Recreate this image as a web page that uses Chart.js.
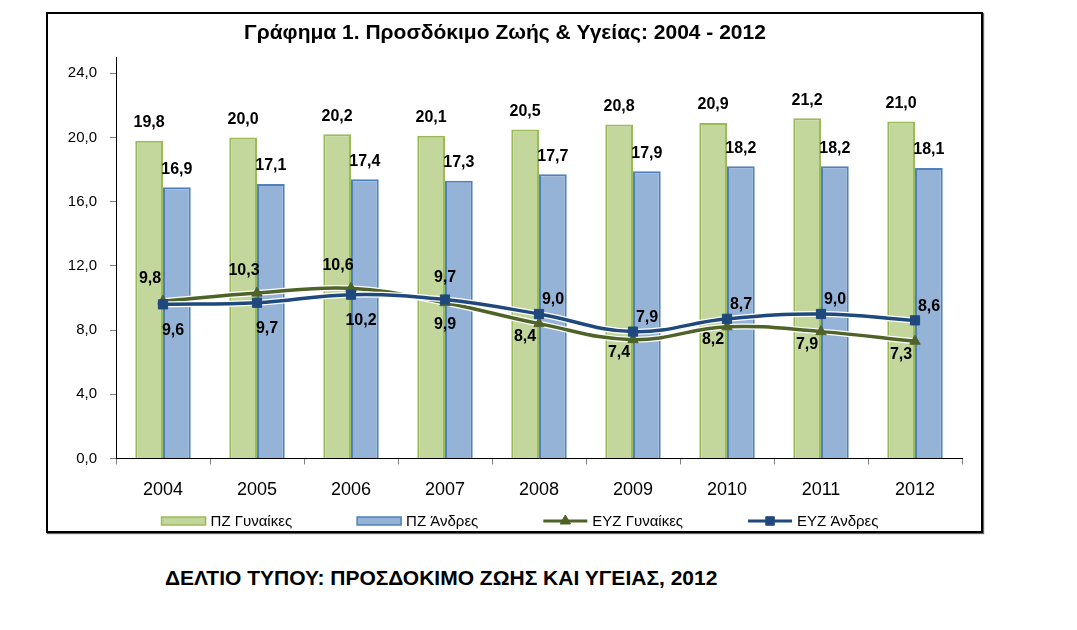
<!DOCTYPE html>
<html>
<head>
<meta charset="utf-8">
<script src="https://cdn.jsdelivr.net/npm/chart.js@4.4.1/dist/chart.umd.min.js"></script>
<style>
  html, body { margin: 0; padding: 0; background: #fff; }
  body { width: 1077px; height: 630px; position: relative; overflow: hidden; font-family: "Liberation Sans", Arial, sans-serif; }
  #box { position: absolute; left: 46px; top: 12px; width: 933px; height: 517px; border: 2px solid #000; box-shadow: 1px 1px 1px rgba(0,0,0,.6); background: #fff; }
  #box canvas { display: block; }
  #note { position: absolute; left: 165px; top: 566px; font-weight: bold; font-size: 21px; color: #000; white-space: nowrap; }
</style>
</head>
<body>
<div id="box"><canvas id="chart" width="933" height="517"></canvas></div>
<div id="note">ΔΕΛΤΙΟ ΤΥΠΟΥ: ΠΡΟΣΔΟΚΙΜΟ ΖΩΗΣ ΚΑΙ ΥΓΕΙΑΣ, 2012</div>
<script>
// data
const years = ['2004', '2005', '2006', '2007', '2008', '2009', '2010', '2011', '2012'];
const pzWomen = [19.8, 20.0, 20.2, 20.1, 20.5, 20.8, 20.9, 21.2, 21.0];
const pzMen = [16.9, 17.1, 17.4, 17.3, 17.7, 17.9, 18.2, 18.2, 18.1];
const eyzWomen = [9.8, 10.3, 10.6, 9.7, 8.4, 7.4, 8.2, 7.9, 7.3];
const eyzMen = [9.6, 9.7, 10.2, 9.9, 9.0, 7.9, 8.7, 9.0, 8.6];
const yTicks = { min: 0, max: 25, step: 4 };

// where each line label sits relative to its point
const eyzWomenLabelPos = ['aboveLeft', 'aboveLeft', 'aboveLeft', 'above', 'belowLeft', 'belowLeft', 'belowLeft', 'belowLeft', 'belowLeft'];
const eyzMenLabelPos = ['belowRight', 'belowRight', 'belowRight', 'below', 'aboveRight', 'aboveRight', 'aboveRight', 'aboveRight', 'aboveRight'];
const OFFSETS = {
    above: [0, -25], aboveLeft: [-13, -23], aboveRight: [14, -14],
    below: [0, 25], belowLeft: [-14, 13], belowRight: [10, 26],
    bar: [0, -18]
};

const FONT = '"Liberation Sans", Arial, sans-serif';
const fmt = v => v.toFixed(1).replace('.', ',');

const valueLabels = {
    id: 'valueLabels',
    afterDatasetsDraw(chart) {
        const ctx = chart.ctx;
        ctx.save();
        ctx.font = 'bold 16px ' + FONT;
        ctx.fillStyle = '#000';
        ctx.textAlign = 'center';
        ctx.textBaseline = 'middle';
        chart.data.datasets.forEach((ds, di) => {
            if (!ds.labelPos) return;
            chart.getDatasetMeta(di).data.forEach((el, i) => {
                const pos = Array.isArray(ds.labelPos) ? ds.labelPos[i] : ds.labelPos;
                const [dx, dy] = OFFSETS[pos];
                ctx.fillText(fmt(ds.data[i]), el.x + dx, el.y + dy);
            });
        });
        ctx.restore();
    }
};

// Excel-style legend: box for bars, line + marker for lines
const bottomLegend = {
    id: 'bottomLegend',
    afterDraw(chart, args, opts) {
        const ctx = chart.ctx;
        const items = chart.data.datasets.filter(d => d.inLegend);
        ctx.save();
        ctx.font = '15px ' + FONT;
        const iconW = 44, gap = 5;
        const widths = items.map(d => iconW + gap + ctx.measureText(d.label).width);
        const total = widths.reduce((a, b) => a + b, 0) + opts.spacing * (items.length - 1);
        let x = opts.centerX - total / 2;
        const y = opts.y;
        items.forEach((d, i) => {
            if (d.type === 'bar') {
                ctx.fillStyle = d.backgroundColor;
                ctx.strokeStyle = d.borderColor;
                ctx.lineWidth = 1.5;
                ctx.fillRect(x, y - 4, iconW, 8);
                ctx.strokeRect(x, y - 4, iconW, 8);
            } else {
                ctx.strokeStyle = d.borderColor;
                ctx.fillStyle = d.borderColor;
                ctx.lineWidth = 3;
                ctx.beginPath();
                ctx.moveTo(x, y);
                ctx.lineTo(x + iconW, y);
                ctx.stroke();
                ctx.lineWidth = 1;
                Chart.helpers.drawPoint(ctx, { pointStyle: d.pointStyle, radius: 6, rotation: 0, borderWidth: 1 }, x + iconW / 2, y);
            }
            ctx.fillStyle = '#000';
            ctx.textAlign = 'left';
            ctx.textBaseline = 'middle';
            ctx.fillText(d.label, x + iconW + gap, y + 1);
            x += widths[i] + opts.spacing;
        });
        ctx.restore();
    }
};

const lineBase = { type: 'line', tension: 0.4, borderWidth: 3.5, pointRadius: 6, pointBorderWidth: 1 };
const haloBase = { type: 'line', tension: 0.4, borderWidth: 6, borderColor: '#fff', pointRadius: 0 };

new Chart(document.getElementById('chart'), {
    type: 'bar',
    data: {
        labels: years,
        datasets: [
            { label: 'ΠΖ Γυναίκες', data: pzWomen, backgroundColor: '#C3D69B', borderColor: '#9BBB59', borderWidth: 2,
              barPercentage: 1, categoryPercentage: 0.59, order: 5, labelPos: 'bar', inLegend: true, type: 'bar' },
            { label: 'ΠΖ Άνδρες', data: pzMen, backgroundColor: '#95B3D7', borderColor: '#4F81BD', borderWidth: 2,
              barPercentage: 1, categoryPercentage: 0.59, order: 6, labelPos: 'bar', inLegend: true, type: 'bar' },
            { ...lineBase, label: 'ΕΥΖ Γυναίκες', data: eyzWomen, borderColor: '#4F6228', backgroundColor: '#4F6228',
              pointStyle: 'triangle', order: 3, labelPos: eyzWomenLabelPos, inLegend: true },
            { ...lineBase, label: 'ΕΥΖ Άνδρες', data: eyzMen, borderColor: '#1F497D', backgroundColor: '#1F497D',
              pointStyle: 'rect', pointRadius: 6.5, order: 1, labelPos: eyzMenLabelPos, inLegend: true },
            { ...haloBase, label: '', data: eyzWomen, order: 4 },
            { ...haloBase, label: '', data: eyzMen, order: 2 }
        ]
    },
    options: {
        responsive: false,
        animation: false,
        layout: { padding: { left: 0, right: 19, top: 0, bottom: 15 } },
        plugins: {
            legend: { display: false },
            tooltip: { enabled: false },
            title: {
                display: true,
                text: 'Γράφημα 1. Προσδόκιμο Ζωής & Υγείας: 2004 - 2012',
                color: '#000',
                font: { family: FONT, size: 21, weight: 'bold' },
                padding: { top: 7, bottom: 11 }
            },
            bottomLegend: { centerX: 472, y: 507, spacing: 65 }
        },
        scales: {
            x: {
                grid: { drawOnChartArea: false, tickLength: 6, color: '#808080' },
                border: { color: '#000' },
                ticks: { color: '#000', font: { family: FONT, size: 18 }, padding: 15 }
            },
            y: {
                min: yTicks.min,
                max: yTicks.max,
                afterFit: scale => { scale.width = 68; },
                grid: { drawOnChartArea: false, tickLength: 6, color: '#808080' },
                border: { color: '#000' },
                ticks: {
                    stepSize: yTicks.step,
                    includeBounds: false,
                    color: '#000',
                    padding: 13,
                    font: { family: FONT, size: 15 },
                    callback: v => fmt(v)
                }
            }
        }
    },
    plugins: [valueLabels, bottomLegend]
});
</script>
</body>
</html>
